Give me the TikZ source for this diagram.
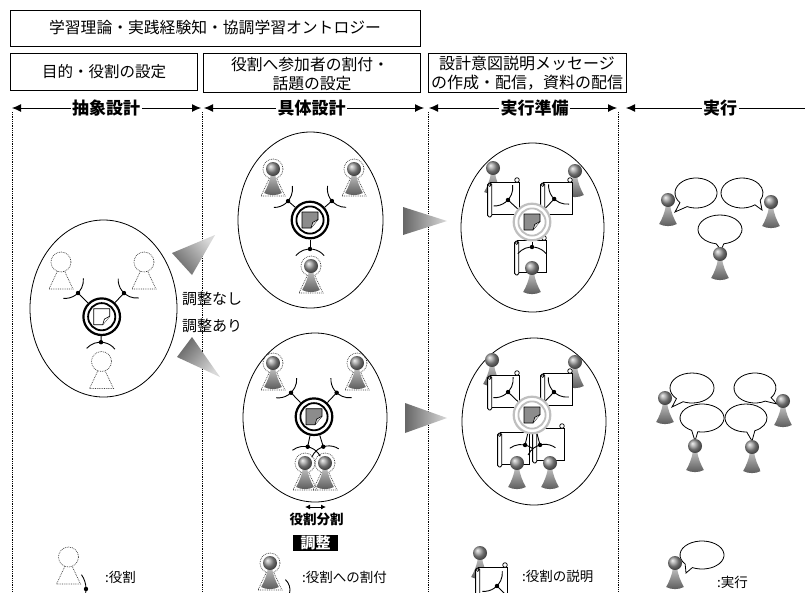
\documentclass[tikz,border=0pt]{standalone}
\usepackage{fontspec}
\newfontfamily\jp{Noto Sans CJK JP}
\usetikzlibrary{arrows.meta,calc}

\tikzset{
  box/.style={draw, line width=0.8pt, inner sep=0pt},
  boxtext/.style={font=\jp\fontsize{15.5}{18}\selectfont, inner sep=0pt},
  phase/.style={font=\jp\bfseries\fontsize{17}{17}\selectfont, fill=white, inner sep=1.5pt},
  phasearrow/.style={line width=0.9pt, {Latex[length=9pt,width=8pt]}-{Latex[length=9pt,width=8pt]}},
  sepline/.style={line width=0.8pt, dash pattern=on 0.9pt off 0.9pt},
  region/.style={line width=0.8pt},
  roleline/.style={line width=0.7pt, dash pattern=on 0.8pt off 1pt, black!75},
  conn/.style={line width=0.9pt},
  legend/.style={font=\jp\fontsize{13.5}{14}\selectfont, inner sep=0pt, anchor=west},
  note/.style={font=\jp\fontsize{15}{16}\selectfont, inner sep=0pt},
  bubbleline/.style={draw, fill=white, line width=0.8pt},
}

% dotted role figure, head centre at (#1,#2)
\newcommand\rolefig[2]{%
  \begin{scope}[shift={(#1,#2)}]
    \draw[roleline] (0,0) circle[radius=10];
    \draw[roleline] (-3.6,9.3) -- (-12,27) -- (12,27) -- (3.6,9.3);
  \end{scope}}

% shaded pawn (participant), head centre at (#1,#2)
\newcommand\pawn[2]{%
  \begin{scope}[shift={(#1,#2)}]
    \shade[top color=black!25, bottom color=black!65]
      (-2,5) -- (2,5) .. controls (3,12) and (6,19) .. (8.8,24)
      .. controls (4,26.8) and (-4,26.8) .. (-8.8,24)
      .. controls (-6,19) and (-3,12) .. (-2,5) -- cycle;
    \shade[ball color=black!40] (0,0) circle[radius=7];
  \end{scope}}

% participant assigned to a role
\newcommand\assigned[2]{\rolefig{#1}{#2}\pawn{#1}{#2}}

% topic hub: centre, ring colour, document fill, flap fill
\newcommand\hub[5]{%
  \begin{scope}[shift={(#1,#2)}]
    \draw[#3, line width=2.2pt, fill=white] (0,0) circle[radius=18.3];
    \draw[#3, line width=1.8pt] (0,0) circle[radius=13.6];
    \draw[line width=0.7pt, fill=#4] (-8,-8) -- (8,-8) -- (8,-0.5) -- (1,8) -- (-8,8) -- cycle;
    \draw[line width=0.6pt, fill=#5] (8,-0.5) -- (2.7,2.4) -- (1,8);
  \end{scope}}

% socket connector: hub centre, direction, distance of the joint
\newcommand\sock[4]{%
  \begin{scope}[shift={(#1,#2)}]
    \draw[conn] (#3:19.5) -- (#3:#4);
    \fill (#3:#4) circle[radius=2.2];
    \draw[conn] (#3:#4+18.5) ++(#3+130:18.5)
      arc[start angle=#3+130, end angle=#3+230, radius=18.5];
  \end{scope}}

% rolled explanation sheet, top-left corner at (#1,#2)
\newcommand\scrollsheet[2]{%
  \begin{scope}[shift={(#1,#2)}]
    \draw[line width=0.8pt, fill=white] (0,0) rectangle (29,32);
    \draw[line width=0.8pt, fill=white, rounded corners=1.6pt] (-2.4,1) rectangle (1.8,35);
    \draw[line width=0.6pt, fill=white] (-0.3,3) circle[radius=1.4];
    \draw[line width=0.7pt, fill=white] (27,-2) circle[radius=2.3];
  \end{scope}}

% speech bubble: centre, radii, tail gap between two angles, tail tip
\newcommand\bubble[7]{%
  \draw[bubbleline] (#1,#2) ++(#6:#3 and #4)
    arc[start angle=#6, end angle=#5+360, x radius=#3, y radius=#4] -- #7 -- cycle;}

\begin{document}
\begin{tikzpicture}[x=1pt, y=-1pt]
\useasboundingbox (0,0) rectangle (805,592);
\clip (0,0) rectangle (805,592);
\fill[white] (0,0) rectangle (805,592);

% ---- heading boxes
\node[box, minimum width=410pt, minimum height=36pt] (theory) at (215,28) {};
\node[boxtext, font=\jp\fontsize{15.8}{18}\selectfont] (theoryT) at (215,28) {学習理論・実践経験知・協調学習オントロジー};
\node[box, minimum width=187pt, minimum height=37pt] (goal) at (103.5,71.5) {};
\node[boxtext] (goalT) at (104,71.5) {目的・役割の設定};
\node[box, minimum width=217pt, minimum height=39pt] (assign) at (311.5,72.5) {};
\node[boxtext, font=\jp\fontsize{15.8}{18}\selectfont] (assignA) at (310,64.5) {役割へ参加者の割付・};
\node[boxtext, font=\jp\fontsize{15.8}{18}\selectfont] (assignB) at (312,83.5) {話題の設定};
\node[box, minimum width=198pt, minimum height=39pt] (msg) at (527,72.5) {};
\node[boxtext, font=\jp\fontsize{16}{18}\selectfont] (msgA) at (527,63) {設計意図説明メッセージ};
\node[boxtext, font=\jp\fontsize{16}{18}\selectfont] (msgB) at (527,83) {の作成・配信，資料の配信};

% ---- phase separators
\foreach \sx [count=\i] in {12.8,202.2,428,618.6} {
  \coordinate (sepTop\i) at (\sx,112);
  \coordinate (sepBot\i) at (\sx,592);
  \draw[sepline] (sepTop\i) -- (sepBot\i);
}

% ---- phase arrows
\coordinate (p0) at (12,108);  \coordinate (p1) at (201,108);
\coordinate (p2) at (204,108); \coordinate (p3) at (424,108);
\coordinate (p4) at (429,108); \coordinate (p5) at (617,108);
\coordinate (p6) at (626,108); \coordinate (p7) at (806,108);
\draw[phasearrow] (p0) -- (p1);
\draw[phasearrow] (p2) -- (p3);
\draw[phasearrow] (p4) -- (p5);
\draw[line width=0.9pt, {Latex[length=9pt,width=8pt]}-] (p6) -- (p7);
\node[phase] (abstract) at (106,108) {抽象設計};
\node[phase] (concrete) at (311.5,108) {具体設計};
\node[phase] (prepare) at (534.5,108) {実行準備};
\node[phase] (execute) at (720,108.5) {実行};

% ---- big transition arrows
\shade[top color=black!60, bottom color=black!15, shading angle=131]
  (172,253) -- (215,235) -- (192,275) -- cycle;
\shade[top color=black!60, bottom color=black!15, shading angle=49.5]
  (177,357) -- (192,337) -- (220,377) -- cycle;
\shade[left color=black!60, right color=black!15] (403,207) -- (447,221) -- (403,235) -- cycle;
\shade[left color=black!60, right color=black!15] (405,403) -- (447,418) -- (405,433) -- cycle;
\node[note] (noadj) at (212,298.5) {調整なし};
\node[note] (adj) at (212,325.5) {調整あり};

% ---- abstract design: roles around the topic
\draw[region] (103.5,308.5) ellipse[x radius=73.5, y radius=88.5];
\rolefig{61}{262}
\rolefig{144}{262}
\rolefig{101.5}{361.5}
\sock{101.7}{316.7}{225}{33.5}
\sock{101.7}{316.7}{313.3}{32.5}
\sock{101.7}{316.7}{91.6}{25.5}
\hub{101.7}{316.7}{black}{white}{white}

% ---- concrete design without adjustment
\draw[region] (310.5,220) ellipse[x radius=72.5, y radius=88];
\assigned{273}{169}
\assigned{354}{169}
\assigned{311}{266}
\sock{310}{220}{220.8}{29}
\sock{310}{220}{319}{29}
\sock{310}{220}{90}{29}
\hub{310}{220}{black}{black!45}{black!15}

% ---- concrete design with a split role
\draw[region] (315,417.5) ellipse[x radius=72, y radius=84.5];
\assigned{273}{363}
\assigned{357}{363}
\assigned{305}{463}
\assigned{325}{463}
\sock{314}{416.7}{226.2}{33.2}
\sock{314}{416.7}{313.4}{33}
\sock{314}{416.7}{101.9}{30.7}
\sock{314}{416.7}{72.8}{31.4}
\hub{314}{416.7}{black}{black!45}{black!15}
\coordinate (splitL) at (305,507); \coordinate (splitR) at (326,507);
\draw[line width=0.9pt, {Latex[length=5pt,width=5pt]}-{Latex[length=5pt,width=5pt]}] (splitL) -- (splitR);
\node[font=\jp\bfseries\fontsize{13.5}{14}\selectfont, inner sep=0pt] (split) at (316.5,519.5) {役割分割};
\node[fill=black, text=white, font=\jp\bfseries\fontsize{15}{15}\selectfont,
      minimum width=45pt, minimum height=16pt, inner sep=0pt] (adjust) at (315.5,542.5) {調整};

% ---- preparation: explanation sheets (upper)
\draw[region] (532.5,227.5) ellipse[x radius=71.5, y radius=84.5];
\pawn{493}{168}
\pawn{575}{171}
\scrollsheet{490}{182}
\scrollsheet{543}{182}
\scrollsheet{517}{240}
\sock{532}{222}{222.5}{32.6}
\sock{532}{222}{314}{32}
\sock{532}{222}{90}{25}
\hub{532}{222}{black!25}{black!45}{black!15}
\pawn{532}{268}

% ---- preparation: explanation sheets (lower)
\draw[region] (534,421.5) ellipse[x radius=72, y radius=83.5];
\pawn{492}{360}
\pawn{575}{362}
\scrollsheet{490}{375}
\scrollsheet{543}{373}
\sock{532}{415}{223.8}{33.2}
\sock{532}{415}{313.7}{31.8}
\scrollsheet{500}{432}
\sock{532}{415}{103}{30.8}
\scrollsheet{535}{428}
\sock{532}{415}{75}{31}
\hub{532}{415}{black!25}{black!45}{black!15}
\pawn{517}{463}
\pawn{550}{463}

% ---- execution (upper)
\bubble{696}{193}{21}{15}{115}{140}{(675,212)}
\bubble{742}{193}{21}{15}{30}{52}{(762,210)}
\bubble{720}{229.5}{22}{14.5}{80}{100}{(721,250)}
\pawn{668}{200}
\pawn{771}{202}
\pawn{720}{254}

% ---- execution (lower)
\bubble{692}{388}{22}{15}{114}{135}{(672,407)}
\bubble{755}{388}{21}{15}{40}{61}{(777,404)}
\bubble{702}{418}{22}{14}{101}{118}{(695,441)}
\bubble{746}{418}{21}{14}{65}{88}{(752,441)}
\pawn{665}{398}
\pawn{783}{401}
\pawn{695}{446}
\pawn{752}{447}

% ---- legend
\rolefig{68.5}{557}
\fill (86,589) circle[radius=2.2];
\draw[conn] (61,589) ++(-35:25) arc[start angle=-35, end angle=35, radius=25];
\node[legend] (lgRole) at (105,577.5) {:役割};

\assigned{270}{563}
\draw[conn] (276,590) ++(-48:14) arc[start angle=-48, end angle=15, radius=14];
\node[legend] (lgAssign) at (302,577) {:役割への割付};

\pawn{480}{553}
\scrollsheet{478}{567}
\sock{519.6}{608.6}{225}{32}
\node[legend] (lgExplain) at (522,576) {:役割の説明};

\bubble{702}{555}{22}{14}{116}{140}{(686,573)}
\pawn{675}{563}
\node[legend] (lgRun) at (717,582) {:実行};
\end{tikzpicture}
\end{document}
